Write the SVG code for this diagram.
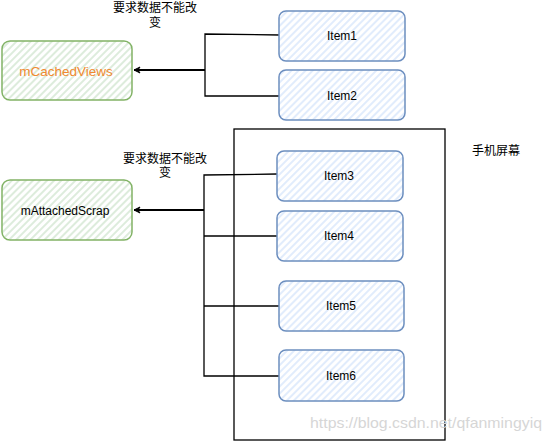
<svg xmlns="http://www.w3.org/2000/svg" width="550" height="441" viewBox="0 0 550 441">
<style>
text{font-family:"Liberation Sans","Noto Sans CJK SC",Arial,sans-serif;font-size:12px;fill:#000;text-anchor:middle;dominant-baseline:central}
.blue{fill:url(#hb);stroke:#6c8ebf;stroke-width:1.5}
.green{fill:url(#hg);stroke:#82b366;stroke-width:1.5}
.line{fill:none;stroke:#000;stroke-width:1.3}
.arrow{fill:none;stroke:#000;stroke-width:2.2;marker-end:url(#ah)}
.screen{fill:none;stroke:#000;stroke-width:1.3}
.wm{font-size:15px;fill:#d6d6d6;text-anchor:start;dominant-baseline:alphabetic}
</style>
<defs>
<pattern id="hb" width="5" height="5" patternUnits="userSpaceOnUse" patternTransform="rotate(45)">
<rect width="5" height="5" fill="#fff"/>
<line x1="1" y1="0" x2="1" y2="5" stroke="#dae8fc" stroke-width="1.6"/>
</pattern>
<pattern id="hg" width="5" height="5" patternUnits="userSpaceOnUse" patternTransform="rotate(45)">
<rect width="5" height="5" fill="#fff"/>
<line x1="1" y1="0" x2="1" y2="5" stroke="#d5e8d4" stroke-width="1.6"/>
</pattern>
<marker id="ah" markerWidth="8" markerHeight="8" refX="7" refY="4" orient="auto" markerUnits="userSpaceOnUse">
<path d="M7,4 L1,1 L3,4 L1,7 Z" fill="#000" stroke="#000" stroke-width="1"/>
</marker>
</defs>

<g id="screen">
<rect class="screen" x="234" y="129" width="211" height="311"/>
<text x="496" y="151">手机屏幕</text>
</g>

<g id="connectors">
<path class="line" d="M280,35 L205,34 L205,96 L280,96"/>
<path class="arrow" d="M205,70 L134,70"/>
<path class="line" d="M277,174 L204,175 L204,376 L279,376"/>
<path class="line" d="M204,236 L277,236"/>
<path class="line" d="M204,306 L279,306"/>
<path class="arrow" d="M204,210 L134,210"/>
</g>

<g id="mCachedViews">
<rect class="green" x="2" y="41" width="130" height="59" rx="8"/>
<text x="66" y="71" style="fill:#f08a30;font-size:13.5px">mCachedViews</text>
</g>

<g id="mAttachedScrap">
<rect class="green" x="2" y="180" width="130" height="60" rx="8"/>
<text x="65" y="211">mAttachedScrap</text>
</g>

<g id="label1">
<text x="155" y="8">要求数据不能改</text>
<text x="155" y="23">变</text>
</g>

<g id="label2">
<text x="165" y="159">要求数据不能改</text>
<text x="165" y="173">变</text>
</g>

<g id="item1">
<rect class="blue" x="279" y="11" width="126" height="50" rx="7"/>
<text x="342" y="36">Item1</text>
</g>
<g id="item2">
<rect class="blue" x="279" y="70" width="126" height="50" rx="7"/>
<text x="342" y="96">Item2</text>
</g>
<g id="item3">
<rect class="blue" x="277" y="151" width="126" height="50" rx="7"/>
<text x="339" y="176">Item3</text>
</g>
<g id="item4">
<rect class="blue" x="277" y="211" width="126" height="50" rx="7"/>
<text x="339" y="236">Item4</text>
</g>
<g id="item5">
<rect class="blue" x="279" y="281" width="125" height="50" rx="7"/>
<text x="341" y="306">Item5</text>
</g>
<g id="item6">
<rect class="blue" x="279" y="350" width="125" height="51" rx="7"/>
<text x="341" y="376">Item6</text>
</g>

<text class="wm" x="310" y="428" textLength="232" lengthAdjust="spacingAndGlyphs">https://blog.csdn.net/qfanmingyiq</text>
</svg>
